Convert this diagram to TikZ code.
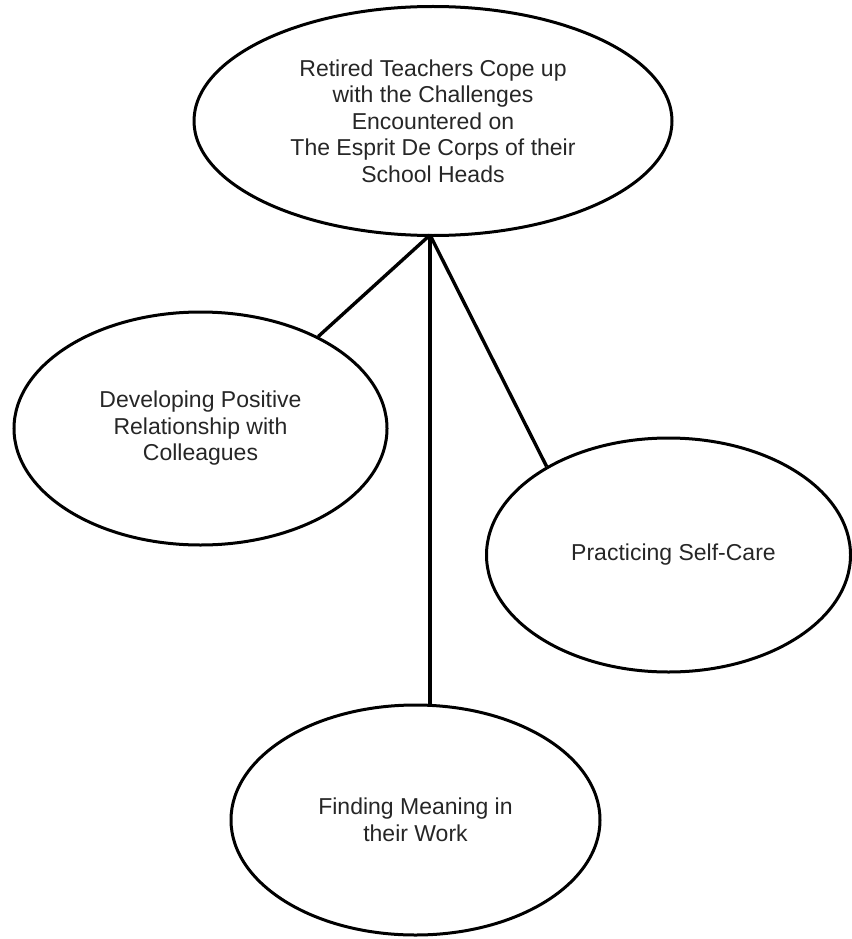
\documentclass[tikz,border=0pt]{standalone}
\usepackage{fontspec}
\setmainfont{Liberation Sans}
\usetikzlibrary{shapes.geometric}

\tikzset{
  bubble/.style={ellipse, draw=black, line width=3pt, inner sep=0pt,
    align=center, font=\fontsize{23}{26.5}\selectfont, text=black!85},
  link/.style={draw=black, line width=3.4pt}
}

\begin{document}
\begin{tikzpicture}[x=1pt, y=-1pt]
  \useasboundingbox (0,0) rectangle (851,939);

  % central theme
  \node[bubble, minimum width=478pt, minimum height=229pt] (top) at (433,121)
    {Retired Teachers Cope up\\with the Challenges\\Encountered on\\The Esprit De Corps of their\\School Heads};

  % sub-themes
  \node[bubble, minimum width=373pt, minimum height=233pt] (lft) at (200.5,428.5)
    {Developing Positive\\Relationship with\\Colleagues};
  \node[bubble, minimum width=364pt, minimum height=234pt] (rgt) at (668.5,555)
    {\hspace*{10pt}Practicing Self-Care};
  \node[bubble, minimum width=369pt, minimum height=230pt] (bot) at (415.5,820)
    {Finding Meaning in\\their Work};

  % branching point under the central theme
  \coordinate (hub) at (430,235);

  \draw[link] (hub) -- (lft.38);
  \draw[link] (hub) -- (rgt.144);
  \draw[link] (hub) -- (bot.north -| hub);
\end{tikzpicture}
\end{document}
